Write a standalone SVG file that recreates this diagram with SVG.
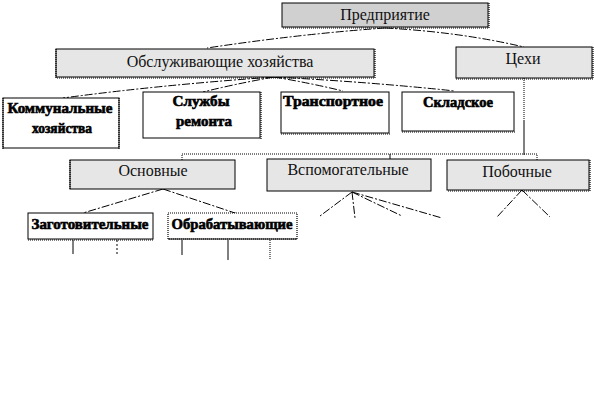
<svg xmlns="http://www.w3.org/2000/svg" width="594" height="419" viewBox="0 0 594 419">
<style>
.box{stroke:#000;stroke-width:1}
.g1{fill:#d0d0d0}
.g2{fill:#e6e6e6}
.w{fill:#fff}
.sh{fill:none;stroke:#000;stroke-width:1.2;stroke-dasharray:1,1}
.t{font-family:"Liberation Serif","Times New Roman",serif;font-size:16px;fill:#111;text-anchor:middle}
.b{font-family:"Liberation Serif","Times New Roman",serif;font-size:14px;font-weight:bold;fill:#000;text-anchor:middle;stroke:#000;stroke-width:0.6}
.c{fill:none;stroke:#000;stroke-width:1;stroke-dasharray:8,2,2,2}
.d{fill:none;stroke:#000;stroke-width:1;stroke-dasharray:1,1}
.s{fill:none;stroke:#000;stroke-width:1}
</style>
<rect width="594" height="419" fill="#fff"/>
<g id="connectors">
<path class="c" d="M385,28 Q300,34 207,48"/>
<path class="c" d="M385,28 Q460,32 524,47"/>
<path class="c" d="M274,77 Q160,85 63,98"/>
<path class="c" d="M274,77 Q235,84 203,92"/>
<path class="c" d="M274,77 Q310,83 343,91"/>
<path class="c" d="M274,77 Q370,82 455,91"/>
<path class="d" d="M524,78 V120"/>
<path class="s" d="M524,120 V155"/>
<path class="d" d="M182,160 V154 H537 V160"/>
<path class="s" d="M390,154 V159"/>
<path class="c" d="M163,189 L83,213"/>
<path class="c" d="M163,189 L238,214"/>
<path class="c" d="M352,192 L320,216"/>
<path class="c" d="M352,192 L355,218"/>
<path class="c" d="M352,192 L402,216"/>
<path class="c" d="M352,192 L442,218"/>
<path class="c" d="M522,190 L497,217"/>
<path class="c" d="M522,190 L550,217"/>
<path class="s" d="M73,240 V254"/>
<path class="s" d="M117,240 V254" stroke-dasharray="2,2"/>
<path class="s" d="M182,240 V255"/>
<path class="s" d="M228,240 V260"/>
<path class="d" d="M270,240 V260"/>
</g>
<g id="n-predpriyatie">
<rect class="box g1" x="282" y="3" width="206" height="24"/>
<path class="sh" d="M489,3 V28 H282"/>
<text class="t" x="385" y="20">Предприятие</text>
</g>
<g id="n-obsl">
<rect class="box g2" x="56" y="49" width="318" height="28"/>
<path class="sh" d="M56,49 V78 H375 V49"/>
<text class="t" x="220" y="67">Обслуживающие хозяйства</text>
</g>
<g id="n-tsekhi">
<rect class="box g2" x="456" y="47" width="136" height="31"/>
<path class="sh" d="M593,47 V79 H456"/>
<text class="t" x="523" y="64">Цехи</text>
</g>
<g id="n-komm">
<rect class="box w" x="3" y="98" width="116" height="50"/>
<path class="sh" d="M3,98 V149 M119,98 V149"/>
<text class="b" x="60" y="113" textLength="105" lengthAdjust="spacingAndGlyphs">Коммунальные</text>
<text class="b" x="62" y="133" textLength="60" lengthAdjust="spacingAndGlyphs">хозяйства</text>
</g>
<g id="n-sluzhby">
<rect class="box w" x="143" y="92" width="117" height="46"/>
<path class="sh" d="M261,92 V139"/>
<text class="b" x="201" y="106" textLength="57" lengthAdjust="spacingAndGlyphs">Службы</text>
<text class="b" x="204" y="126" textLength="56" lengthAdjust="spacingAndGlyphs">ремонта</text>
</g>
<g id="n-transp">
<rect class="box w" x="281" y="92" width="108" height="41"/>
<path class="sh" d="M281,134 H390"/>
<text class="b" x="333" y="106" textLength="100" lengthAdjust="spacingAndGlyphs">Транспортное</text>
</g>
<g id="n-sklad">
<rect class="box w" x="402" y="92" width="112" height="39"/>
<path class="sh" d="M402,132 H515"/>
<text class="b" x="458" y="107" textLength="70" lengthAdjust="spacingAndGlyphs">Складское</text>
</g>
<g id="n-osnovnye">
<rect class="box g2" x="70" y="160" width="165" height="29"/>
<path class="sh" d="M70,160 V190"/>
<text class="t" x="153" y="176">Основные</text>
</g>
<g id="n-vspom">
<rect class="box g2" x="267" y="159" width="164" height="32"/>
<text class="t" x="348" y="175">Вспомогательные</text>
</g>
<g id="n-pobochnye">
<rect class="box g2" x="447" y="160" width="142" height="30"/>
<path class="sh" d="M590,160 V191 H447"/>
<text class="t" x="517" y="177">Побочные</text>
</g>
<g id="n-zagot">
<rect class="box w" x="28" y="213" width="125" height="26"/>
<path class="sh" d="M28,240 H154"/>
<text class="b" x="90" y="229" textLength="117" lengthAdjust="spacingAndGlyphs">Заготовительные</text>
</g>
<g id="n-obrab">
<rect class="w" x="168" y="213" width="129" height="26"/>
<path class="sh" d="M168,213 H297 V239 H168 Z"/>
<path class="s" d="M168,239 H297"/>
<text class="b" x="232" y="229" textLength="121" lengthAdjust="spacingAndGlyphs">Обрабатывающие</text>
</g>
</svg>
